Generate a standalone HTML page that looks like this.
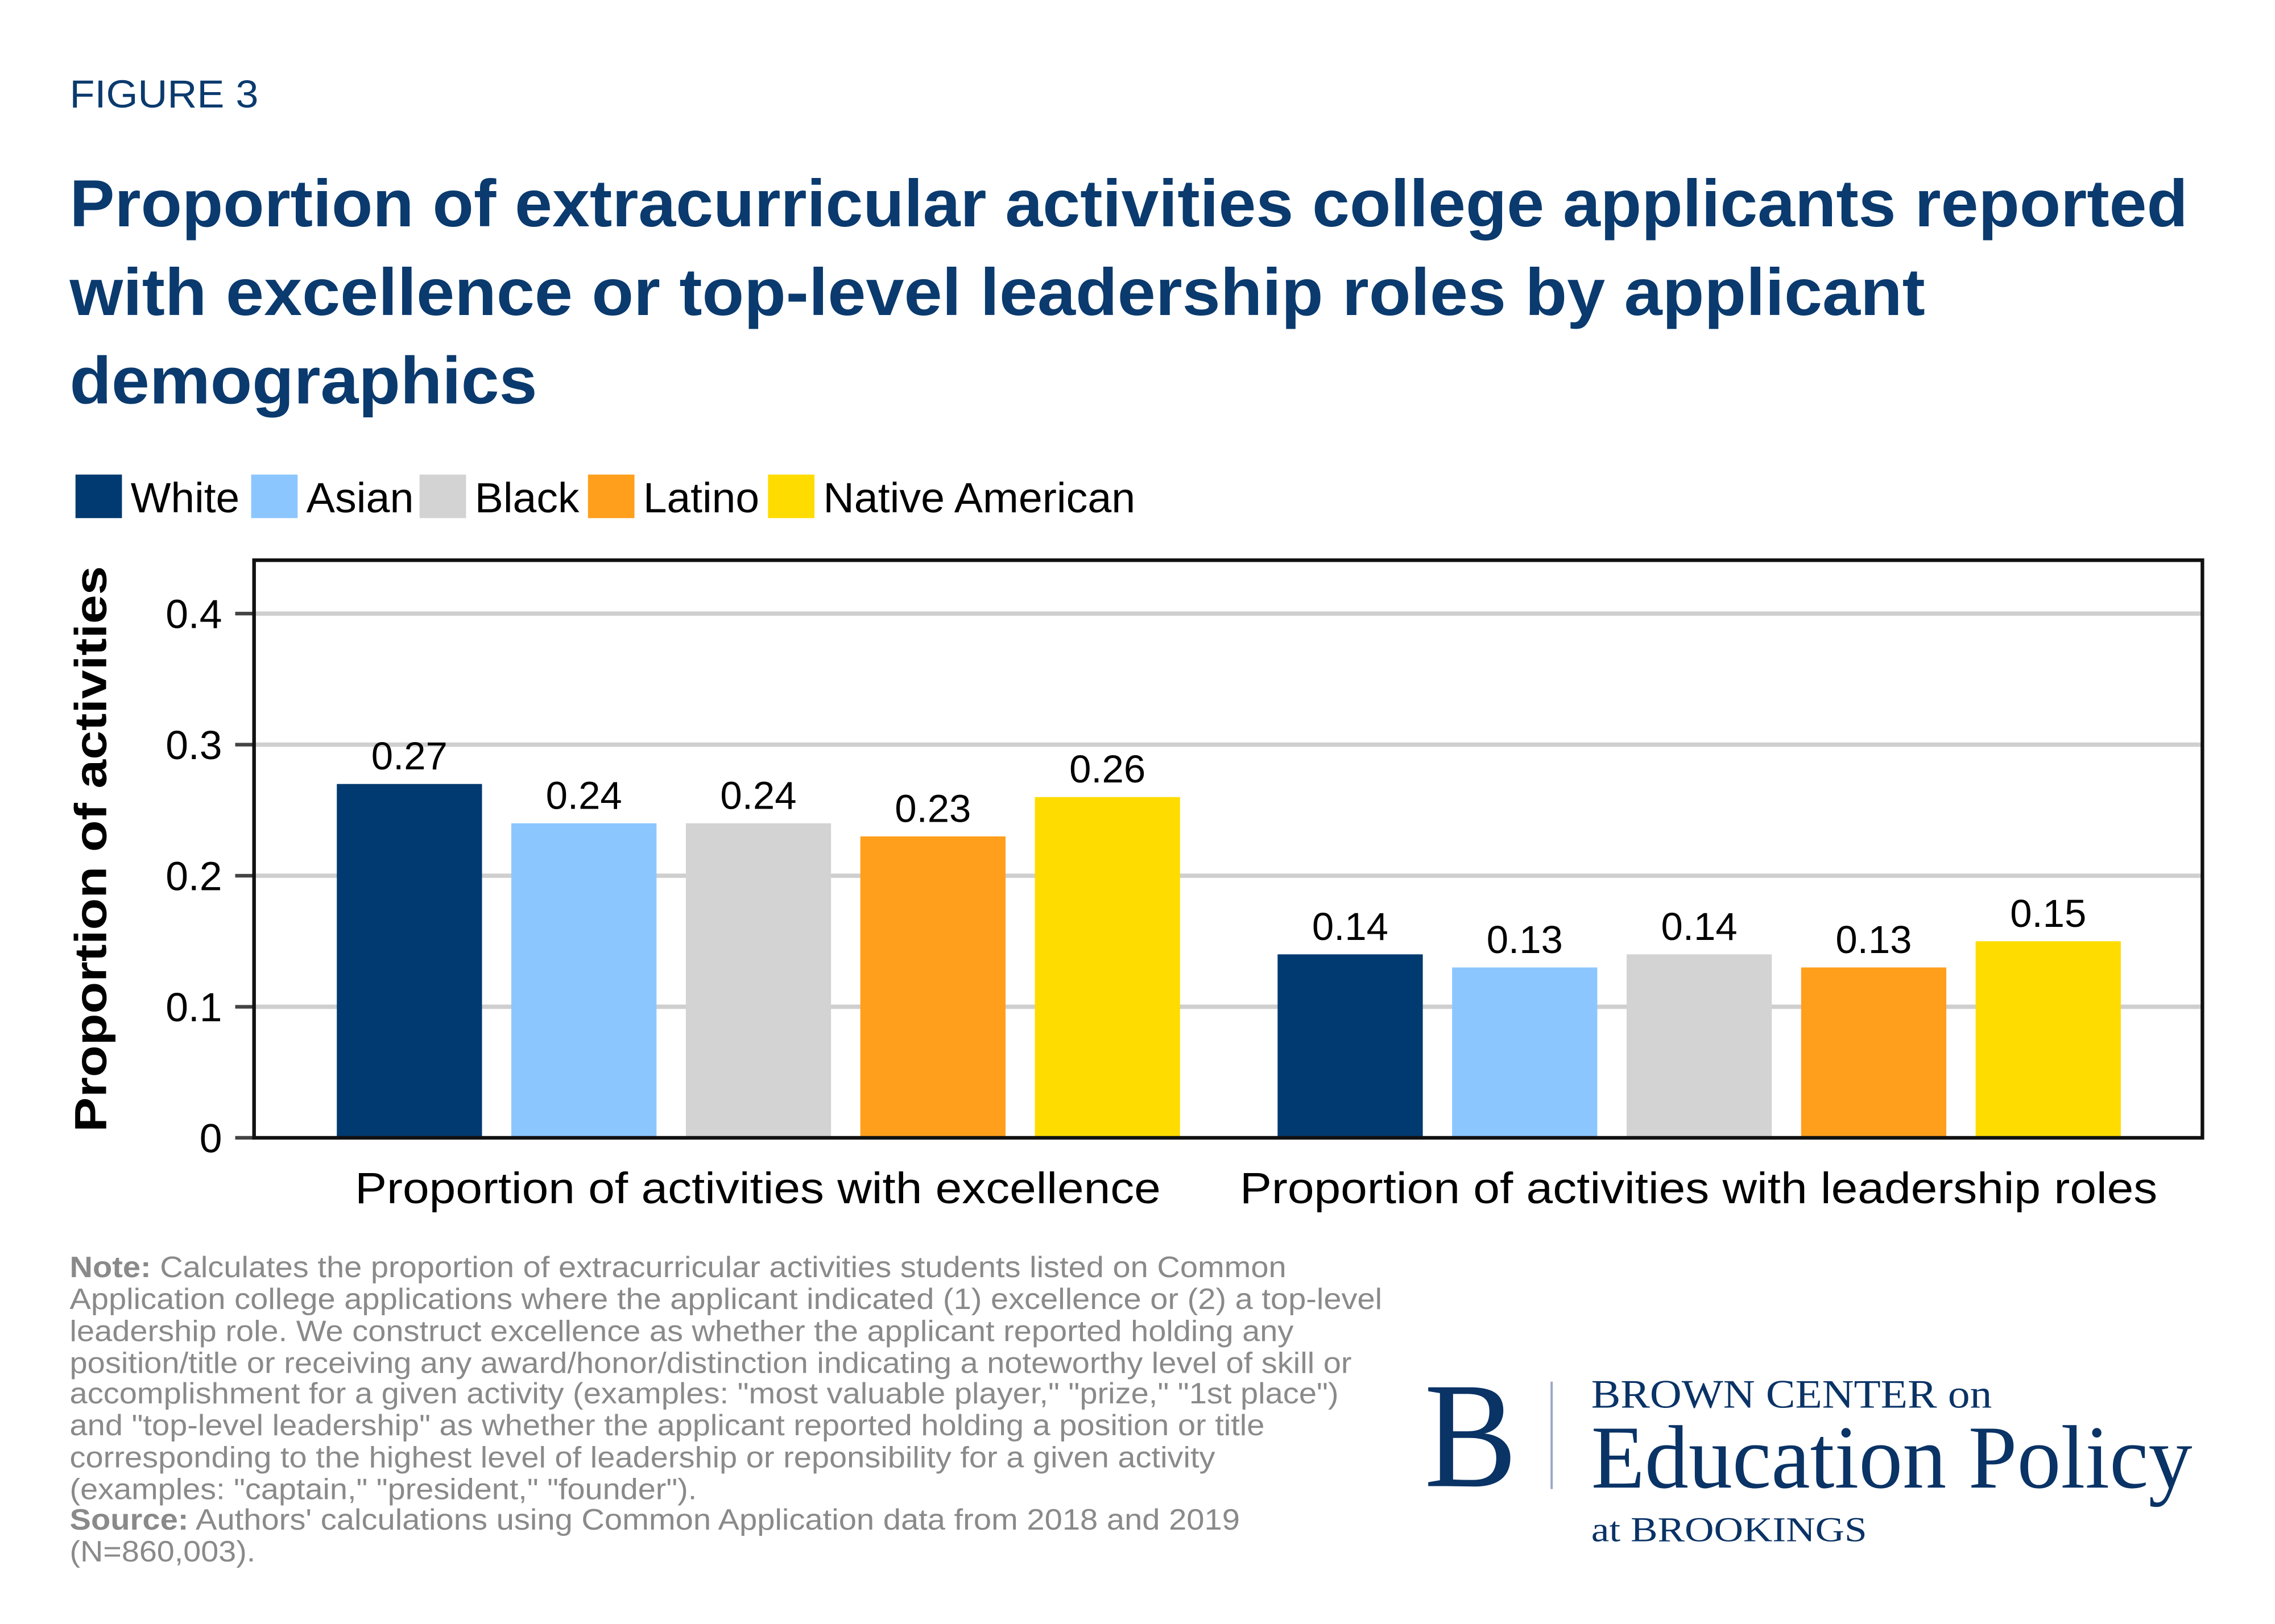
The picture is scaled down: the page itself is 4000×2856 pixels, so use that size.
<!DOCTYPE html>
<html><head><meta charset="utf-8"><style>
html,body{margin:0;padding:0;background:#fff;}
svg{display:block;}
text{font-family:"Liberation Sans",sans-serif;}
</style></head><body>
<svg id="fig" width="4000" height="2856" viewBox="0 0 1567 1119" preserveAspectRatio="none" xmlns="http://www.w3.org/2000/svg">
<rect x="0" y="0" width="1567" height="1119" fill="#fff"/>
<text x="48" y="74" font-size="27" fill="#0a3a6e" textLength="130" lengthAdjust="spacingAndGlyphs">FIGURE 3</text>
<g font-weight="bold" font-size="46" fill="#0a3a6e">
<text x="48" y="156" textLength="1459" lengthAdjust="spacingAndGlyphs">Proportion of extracurricular activities college applicants reported</text>
<text x="48" y="217" textLength="1278" lengthAdjust="spacingAndGlyphs">with excellence or top-level leadership roles by applicant</text>
<text x="48" y="278" textLength="322" lengthAdjust="spacingAndGlyphs">demographics</text>
</g>
<g id="legend"></g>
<g id="plot"></g>
<g font-size="20.5" fill="#8a8a8a">
<text x="48" y="880" textLength="838" lengthAdjust="spacingAndGlyphs"><tspan font-weight="bold">Note:</tspan> Calculates the proportion of extracurricular activities students listed on Common</text>
<text x="48" y="902" textLength="904" lengthAdjust="spacingAndGlyphs">Application college applications where the applicant indicated (1) excellence or (2) a top-level</text>
<text x="48" y="924" textLength="843" lengthAdjust="spacingAndGlyphs">leadership role. We construct excellence as whether the applicant reported holding any</text>
<text x="48" y="946" textLength="883" lengthAdjust="spacingAndGlyphs">position/title or receiving any award/honor/distinction indicating a noteworthy level of skill or</text>
<text x="48" y="967" textLength="874" lengthAdjust="spacingAndGlyphs">accomplishment for a given activity (examples: "most valuable player," "prize," "1st place")</text>
<text x="48" y="989" textLength="823" lengthAdjust="spacingAndGlyphs">and "top-level leadership" as whether the applicant reported holding a position or title</text>
<text x="48" y="1011" textLength="789" lengthAdjust="spacingAndGlyphs">corresponding to the highest level of leadership or reponsibility for a given activity</text>
<text x="48" y="1033" textLength="432" lengthAdjust="spacingAndGlyphs">(examples: "captain," "president," "founder").</text>
<text x="48" y="1054" textLength="806" lengthAdjust="spacingAndGlyphs"><tspan font-weight="bold">Source:</tspan> Authors' calculations using Common Application data from 2018 and 2019</text>
<text x="48" y="1076" textLength="128" lengthAdjust="spacingAndGlyphs">(N=860,003).</text>
</g>
<g fill="#0a3366">
<text x="981" y="1024" font-size="104" textLength="64" lengthAdjust="spacingAndGlyphs" style="font-family:'Liberation Serif',serif">B</text>
<rect x="1068" y="952" width="1.5" height="74" fill="#9aa6c4"/>
<text x="1096" y="970" font-size="28" textLength="276" lengthAdjust="spacingAndGlyphs" style="font-family:'Liberation Serif',serif">BROWN CENTER on</text>
<text x="1096" y="1025" font-size="62" textLength="414" lengthAdjust="spacingAndGlyphs" style="font-family:'Liberation Serif',serif">Education Policy</text>
<text x="1096" y="1062" font-size="24" textLength="190" lengthAdjust="spacingAndGlyphs" style="font-family:'Liberation Serif',serif">at BROOKINGS</text>
</g>
</svg>
<script>
const seriesNames = ["White","Asian","Black","Latino","Native American"];
const seriesColors = ["#003a70","#8cc6ff","#d3d3d3","#ff9f1c","#ffdc00"];
const categories = ["Proportion of activities with excellence","Proportion of activities with leadership roles"];
const excellenceValues = [0.27,0.24,0.24,0.23,0.26];
const leadershipValues = [0.14,0.13,0.14,0.13,0.15];
const tickValues = [0,0.1,0.2,0.3,0.4];
const tickLabels = ["0","0.1","0.2","0.3","0.4"];

const NS="http://www.w3.org/2000/svg";
function mk(tag,attrs,parent,txt){const e=document.createElementNS(NS,tag);for(const k in attrs)e.setAttribute(k,attrs[k]);if(txt!=null)e.textContent=txt;parent.appendChild(e);return e;}
const plotLeft=175,plotRight=1517,plotTop=386,plotBottom=784;
function yScale(v){return plotBottom - v*903;}
const groupStart=[232,880], step=120.2, bw=100;
function xScale(g,i){return groupStart[g]+i*step;}

const lg=document.getElementById('legend');
const legX=[52,173,289,405,529], legW=[75,74,72,80,215];
seriesNames.forEach((n,i)=>{
  const r=mk('rect',{x:legX[i],y:327,width:32,height:30,fill:seriesColors[i]},lg);
  
  
  const t=mk('text',{x:legX[i]+38,y:353,'font-size':29,fill:'#000',textLength:legW[i],lengthAdjust:'spacingAndGlyphs'},lg,n);
  
  
});

const p=document.getElementById('plot');
tickValues.forEach((v,i)=>{
  if(v>0){const gl=mk('line',{x1:plotLeft,x2:plotRight,y1:yScale(v),y2:yScale(v),stroke:'#cfcfcf','stroke-width':3},p);
  
  }
  const tk=mk('line',{x1:162,x2:plotLeft,y1:yScale(v),y2:yScale(v),stroke:'#444','stroke-width':2.5},p);
  
  
  const tl=mk('text',{x:153,y:yScale(v)+10,'font-size':28,'text-anchor':'end',fill:'#000'},p,tickLabels[i]);
  
  
});
[excellenceValues,leadershipValues].forEach((vals,g)=>{
  vals.forEach((v,i)=>{
    const b=mk('rect',{x:xScale(g,i),y:yScale(v),width:bw,height:plotBottom-yScale(v),fill:seriesColors[i]},p);
    
    
    const t=mk('text',{x:xScale(g,i)+bw/2,y:yScale(v)-10,'font-size':27,'text-anchor':'middle',fill:'#000'},p,v.toFixed(2));
    
    
  });
});
const fr=mk('rect',{x:plotLeft,y:plotTop,width:plotRight-plotLeft,height:plotBottom-plotTop,fill:'none',stroke:'#111','stroke-width':2.5},p);


const catCx=[522,1170], catW=[555,632];
categories.forEach((c,i)=>{
  const t=mk('text',{x:catCx[i]-catW[i]/2,y:829,'font-size':30,fill:'#000',textLength:catW[i],lengthAdjust:'spacingAndGlyphs'},p,c);
  
  
});
const yt=mk('text',{x:0,y:0,'font-size':31,'font-weight':'bold',fill:'#000','text-anchor':'middle',transform:'translate(73,585) rotate(-90)',textLength:390,lengthAdjust:'spacingAndGlyphs'},p,'Proportion of activities');


</script>
</body></html>
